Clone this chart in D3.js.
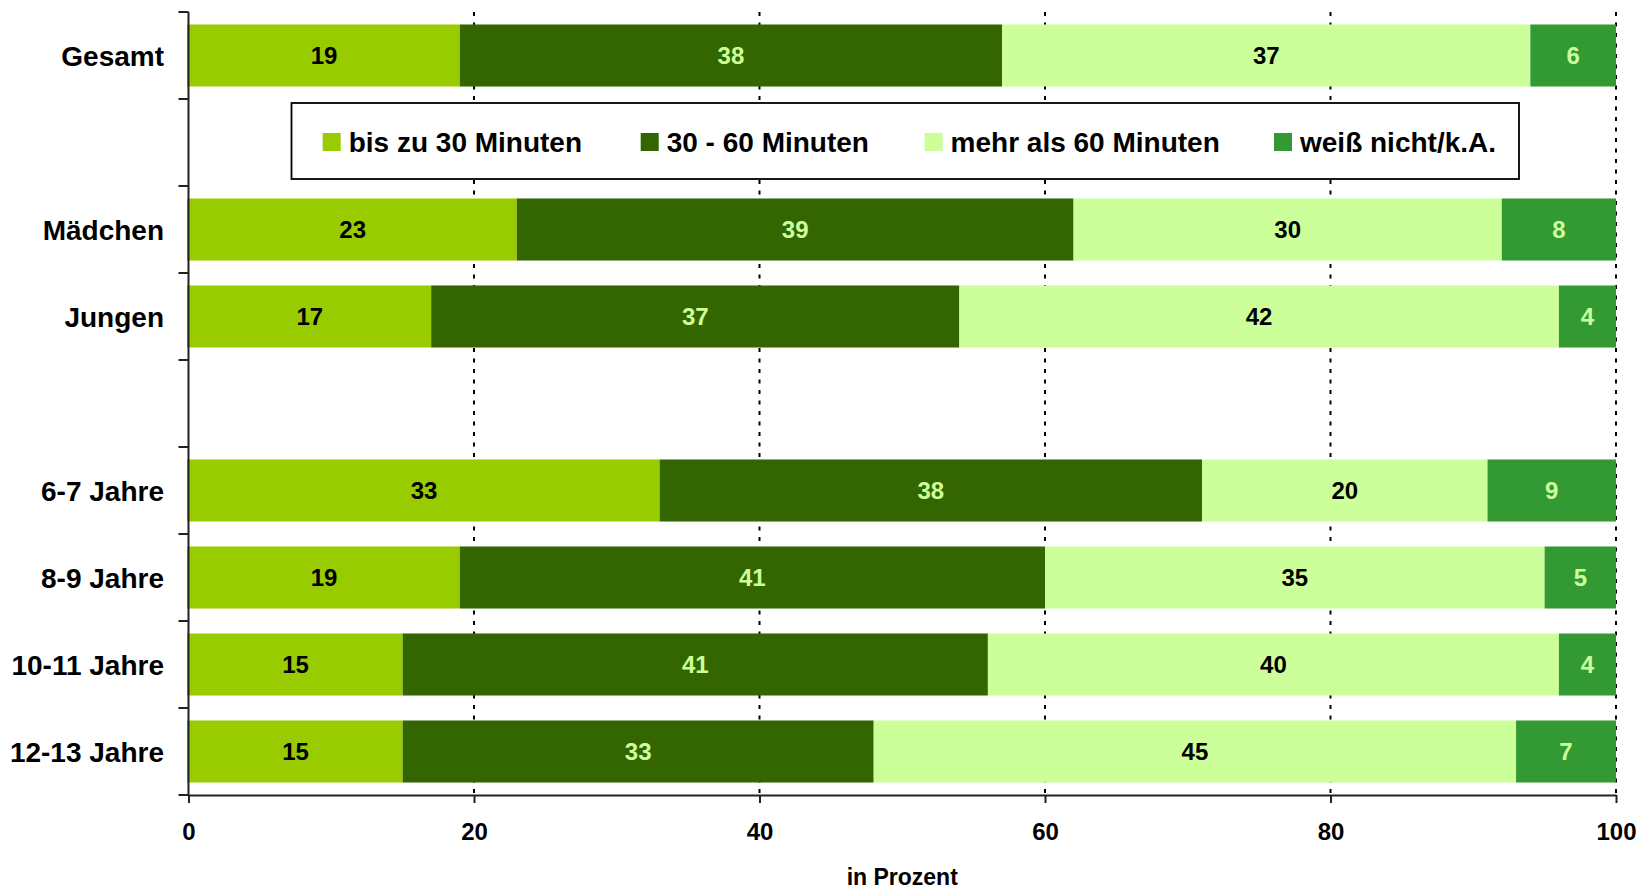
<!DOCTYPE html>
<html>
<head>
<meta charset="utf-8">
<script src="https://cdn.jsdelivr.net/npm/d3@7"></script>
<style>
  body { margin: 0; background: #fff; }
  svg text { font-family: "Liberation Sans", Arial, sans-serif; font-weight: bold; }
</style>
</head>
<body>
<div class="chart"></div>
<script>
// slots: names starting with "_" are the gaps between groups
const categories = ["Gesamt", "_gap1", "Mädchen", "Jungen", "_gap2", "6-7 Jahre", "8-9 Jahre", "10-11 Jahre", "12-13 Jahre"];
const seriesNames = ["bis zu 30 Minuten", "30 - 60 Minuten", "mehr als 60 Minuten", "weiß nicht/k.A."];
const seriesColors = ["#99CC00", "#336600", "#CCFF99", "#339933"];
const labelColors = ["#000000", "#CCFF99", "#000000", "#CCFF99"];

const rowNames = ["Gesamt", "Mädchen", "Jungen", "6-7 Jahre", "8-9 Jahre", "10-11 Jahre", "12-13 Jahre"];
const bis30 = [19, 23, 17, 33, 19, 15, 15];
const min30bis60 = [38, 39, 37, 38, 41, 41, 33];
const mehr60 = [37, 30, 42, 20, 35, 40, 45];
const weissNicht = [6, 8, 4, 9, 5, 4, 7];

const xTicks = [0, 20, 40, 60, 80, 100];
const xTitle = "in Prozent";

const W = 1643, H = 894;
const margin = { top: 12, right: 27, bottom: 99, left: 188.5 };
const width = W - margin.left - margin.right;
const height = H - margin.top - margin.bottom;

const svg = d3.select(".chart").append("svg")
  .attr("width", W).attr("height", H);
const g = svg.append("g").attr("transform", `translate(${margin.left},${margin.top})`);

const x = d3.scaleLinear().domain([0, 100]).range([0, width]);
const y = d3.scaleBand().domain(categories).range([0, height])
  .paddingInner(0.287).paddingOuter(0.1435);
const step = y.step();

// stacked data
const series = [bis30, min30bis60, mehr60, weissNicht];
const rows = rowNames.map((name, i) => {
  let acc = 0;
  return {
    name,
    segs: series.map((s, k) => {
      const seg = { k, v: s[i], x0: acc, x1: acc + s[i] };
      acc += s[i];
      return seg;
    })
  };
});

// dotted grid
g.append("g").selectAll("line")
  .data(xTicks.filter(d => d > 0))
  .join("line")
  .attr("x1", d => x(d)).attr("x2", d => x(d))
  .attr("y1", 0).attr("y2", height)
  .attr("stroke", "#000").attr("stroke-width", 2)
  .attr("stroke-dasharray", "4,6.5");

// bars
const rowG = g.selectAll(".row").data(rows).join("g")
  .attr("class", "row")
  .attr("transform", d => `translate(0,${y(d.name)})`);

rowG.selectAll("rect").data(d => d.segs).join("rect")
  .attr("x", d => x(d.x0) - (d.x0 === 0 ? 1.5 : 0))
  .attr("width", d => x(d.x1) - x(d.x0) + (d.x0 === 0 ? 1.5 : 0))
  .attr("y", 0)
  .attr("height", y.bandwidth())
  .attr("fill", d => seriesColors[d.k]);

rowG.selectAll("text").data(d => d.segs).join("text")
  .attr("x", d => (x(d.x0) + x(d.x1)) / 2)
  .attr("y", y.bandwidth() / 2)
  .attr("dy", "0.36em")
  .attr("text-anchor", "middle")
  .attr("font-size", 24)
  .attr("fill", d => labelColors[d.k])
  .text(d => d.v);

// y axis line + ticks at slot boundaries
g.append("line")
  .attr("x1", 0).attr("x2", 0).attr("y1", 0).attr("y2", height)
  .attr("stroke", "#222").attr("stroke-width", 2);
g.append("g").selectAll("line")
  .data(d3.range(categories.length + 1))
  .join("line")
  .attr("x1", -10).attr("x2", 0)
  .attr("y1", i => i * step).attr("y2", i => i * step)
  .attr("stroke", "#222").attr("stroke-width", 2);

// category labels
g.append("g").selectAll("text")
  .data(rowNames)
  .join("text")
  .attr("x", -24.5)
  .attr("y", d => y(d) + y.bandwidth() / 2)
  .attr("dy", "0.36em")
  .attr("text-anchor", "end")
  .attr("font-size", 28)
  .attr("fill", "#000")
  .text(d => d);

// x axis
const xAxis = g.append("g")
  .attr("transform", `translate(0,${height})`)
  .call(d3.axisBottom(x).tickValues(xTicks).tickSize(8).tickSizeOuter(0).tickPadding(20));
xAxis.select(".domain").attr("stroke", "#222").attr("stroke-width", 2);
xAxis.selectAll(".tick line").attr("stroke", "#222").attr("stroke-width", 2);
xAxis.selectAll(".tick text")
  .attr("font-size", 24)
  .attr("font-family", "Liberation Sans, Arial, sans-serif")
  .attr("font-weight", "bold")
  .attr("fill", "#000");

g.append("text")
  .attr("x", width / 2)
  .attr("y", height + 90)
  .attr("text-anchor", "middle")
  .attr("font-size", 23)
  .attr("fill", "#000")
  .text(xTitle);

// legend
const legend = svg.append("g");
legend.append("rect")
  .attr("x", 291.5).attr("y", 103)
  .attr("width", 1519 - 291.5).attr("height", 76)
  .attr("fill", "#fff").attr("stroke", "#000").attr("stroke-width", 1.8);

const legendStarts = [322.7, 640.7, 924.6, 1274];
seriesNames.forEach((name, k) => {
  const lx = legendStarts[k];
  legend.append("rect")
    .attr("x", lx).attr("y", 133)
    .attr("width", 18).attr("height", 18)
    .attr("fill", seriesColors[k]);
  legend.append("text")
    .attr("x", lx + 26).attr("y", 142)
    .attr("dy", "0.36em")
    .attr("font-size", 28)
    .attr("fill", "#000")
    .text(name);
});
</script>
</body>
</html>
